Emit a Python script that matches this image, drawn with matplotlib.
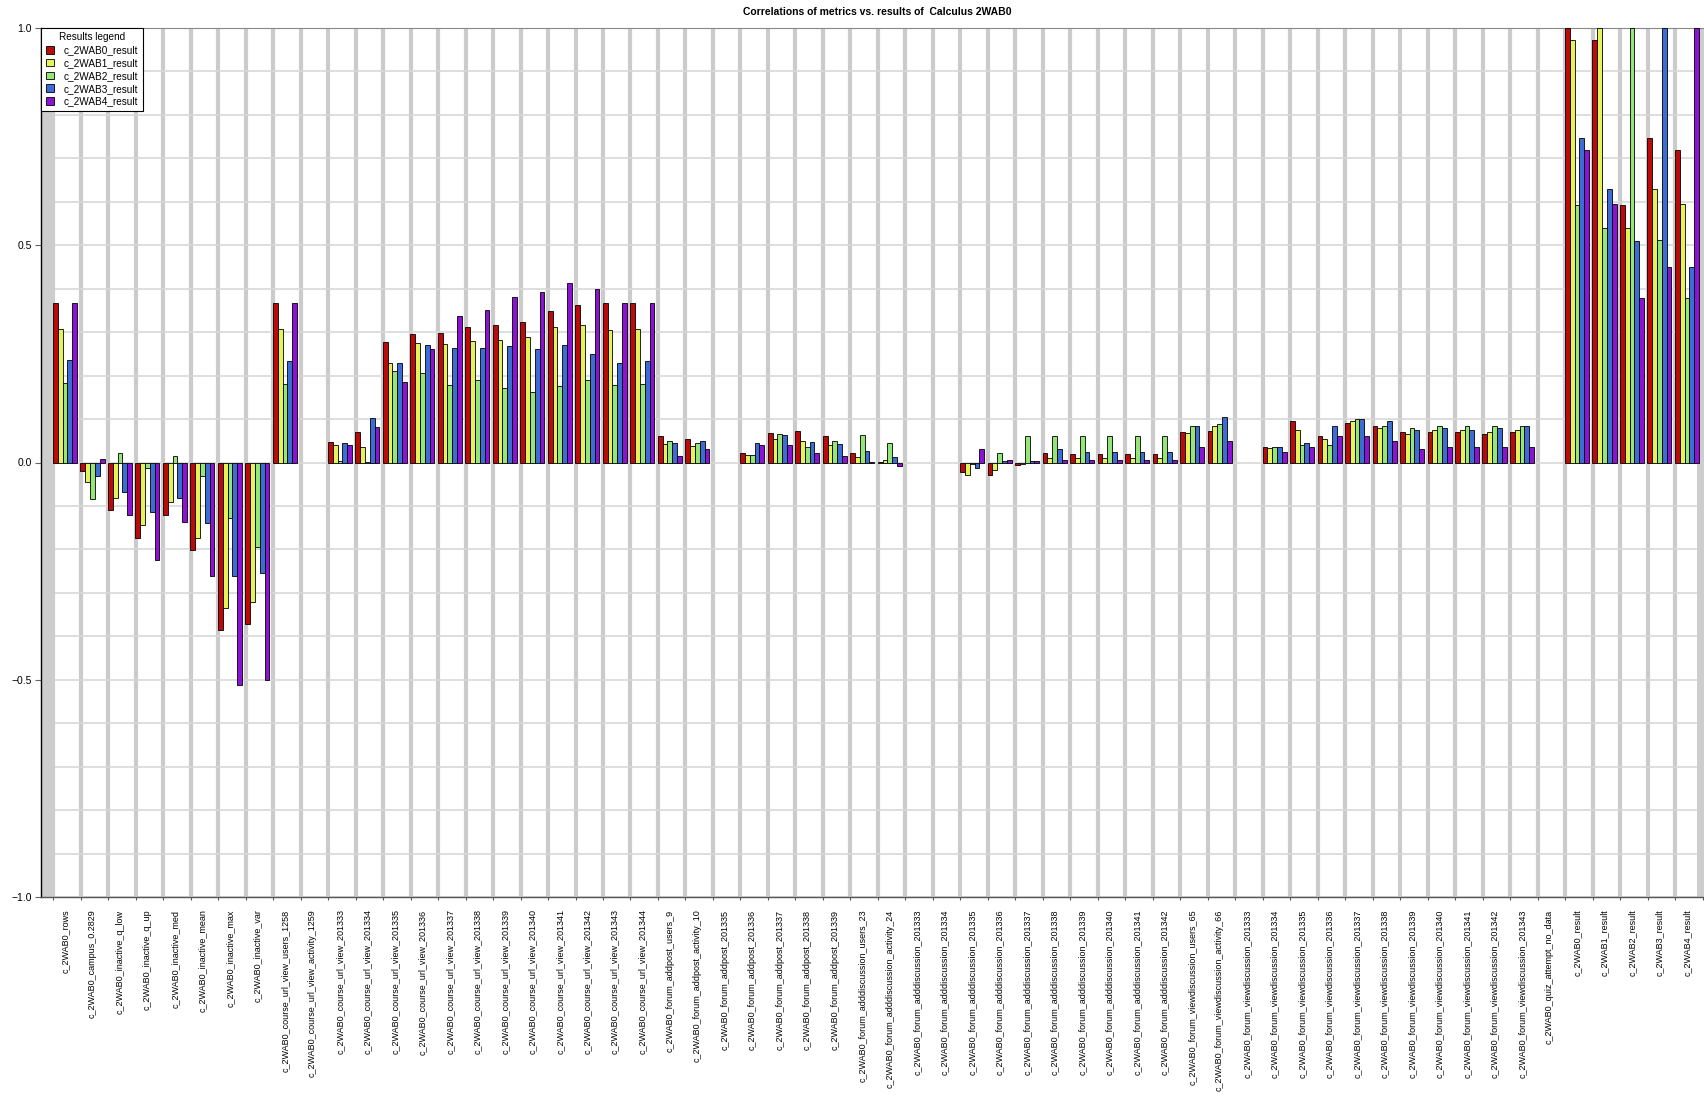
import matplotlib
matplotlib.use("Agg")
import matplotlib.pyplot as plt
from matplotlib.ticker import MultipleLocator, FixedLocator
import numpy as np

nan = np.nan

categories = [
    "c_2WAB0_rows", "c_2WAB0_campus_0.2829", "c_2WAB0_inactive_q_low", "c_2WAB0_inactive_q_up",
    "c_2WAB0_inactive_med", "c_2WAB0_inactive_mean", "c_2WAB0_inactive_max", "c_2WAB0_inactive_var",
    "c_2WAB0_course_url_view_users_1258", "c_2WAB0_course_url_view_activity_1259",
    "c_2WAB0_course_url_view_201333", "c_2WAB0_course_url_view_201334", "c_2WAB0_course_url_view_201335",
    "c_2WAB0_course_url_view_201336", "c_2WAB0_course_url_view_201337", "c_2WAB0_course_url_view_201338",
    "c_2WAB0_course_url_view_201339", "c_2WAB0_course_url_view_201340", "c_2WAB0_course_url_view_201341",
    "c_2WAB0_course_url_view_201342", "c_2WAB0_course_url_view_201343", "c_2WAB0_course_url_view_201344",
    "c_2WAB0_forum_addpost_users_9", "c_2WAB0_forum_addpost_activity_10",
    "c_2WAB0_forum_addpost_201335", "c_2WAB0_forum_addpost_201336", "c_2WAB0_forum_addpost_201337",
    "c_2WAB0_forum_addpost_201338", "c_2WAB0_forum_addpost_201339",
    "c_2WAB0_forum_adddiscussion_users_23", "c_2WAB0_forum_adddiscussion_activity_24",
    "c_2WAB0_forum_adddiscussion_201333", "c_2WAB0_forum_adddiscussion_201334",
    "c_2WAB0_forum_adddiscussion_201335", "c_2WAB0_forum_adddiscussion_201336",
    "c_2WAB0_forum_adddiscussion_201337", "c_2WAB0_forum_adddiscussion_201338",
    "c_2WAB0_forum_adddiscussion_201339", "c_2WAB0_forum_adddiscussion_201340",
    "c_2WAB0_forum_adddiscussion_201341", "c_2WAB0_forum_adddiscussion_201342",
    "c_2WAB0_forum_viewdiscussion_users_65", "c_2WAB0_forum_viewdiscussion_activity_66",
    "c_2WAB0_forum_viewdiscussion_201333", "c_2WAB0_forum_viewdiscussion_201334",
    "c_2WAB0_forum_viewdiscussion_201335", "c_2WAB0_forum_viewdiscussion_201336",
    "c_2WAB0_forum_viewdiscussion_201337", "c_2WAB0_forum_viewdiscussion_201338",
    "c_2WAB0_forum_viewdiscussion_201339", "c_2WAB0_forum_viewdiscussion_201340",
    "c_2WAB0_forum_viewdiscussion_201341", "c_2WAB0_forum_viewdiscussion_201342",
    "c_2WAB0_forum_viewdiscussion_201343", "c_2WAB0_quiz_attempt_no_data",
    "c_2WAB0_result", "c_2WAB1_result", "c_2WAB2_result", "c_2WAB3_result", "c_2WAB4_result",
]

series_names = ["c_2WAB0_result", "c_2WAB1_result", "c_2WAB2_result", "c_2WAB3_result", "c_2WAB4_result"]

wab0 = [0.367, -0.019, -0.109, -0.173, -0.120, -0.201, -0.385, -0.371, 0.367, nan,
        0.048, 0.071, 0.278, 0.295, 0.297, 0.311, 0.317, 0.324, 0.348, 0.363,
        0.366, 0.366, 0.061, 0.053, nan, 0.022, 0.067, 0.073, 0.061, 0.022,
        0.002, nan, nan, -0.022, -0.028, -0.005, 0.022, 0.020, 0.020, 0.020,
        0.020, 0.070, 0.072, nan, 0.035, 0.095, 0.060, 0.090, 0.085, 0.070,
        0.070, 0.070, 0.065, 0.070, nan, 1.0, 0.973, 0.593, 0.746, 0.720]
wab1 = [0.307, -0.045, -0.081, -0.144, -0.092, -0.174, -0.336, -0.322, 0.307, nan,
        0.041, 0.036, 0.230, 0.275, 0.272, 0.280, 0.283, 0.288, 0.311, 0.317,
        0.305, 0.307, 0.042, 0.038, nan, 0.017, 0.054, 0.050, 0.041, 0.012,
        0.005, nan, nan, -0.028, -0.018, -0.004, 0.010, 0.010, 0.010, 0.010,
        0.010, 0.068, 0.085, nan, 0.033, 0.075, 0.055, 0.095, 0.080, 0.065,
        0.075, 0.075, 0.070, 0.075, nan, 0.973, 1.0, 0.540, 0.630, 0.594]
wab2 = [0.182, -0.083, 0.023, -0.012, 0.016, -0.032, -0.127, -0.194, 0.180, nan,
        0.003, 0.001, 0.211, 0.206, 0.179, 0.189, 0.171, 0.163, 0.176, 0.190,
        0.179, 0.180, 0.050, 0.046, nan, 0.018, 0.065, 0.036, 0.050, 0.064,
        0.044, nan, nan, -0.004, 0.022, 0.062, 0.062, 0.062, 0.062, 0.062,
        0.062, 0.085, 0.088, nan, 0.035, 0.040, 0.040, 0.100, 0.085, 0.080,
        0.085, 0.085, 0.085, 0.085, nan, 0.593, 0.540, 1.0, 0.511, 0.378]
wab3 = [0.236, -0.032, -0.069, -0.115, -0.081, -0.140, -0.261, -0.255, 0.234, nan,
        0.046, 0.103, 0.228, 0.270, 0.264, 0.263, 0.267, 0.262, 0.270, 0.249,
        0.230, 0.234, 0.044, 0.050, nan, 0.045, 0.063, 0.048, 0.042, 0.027,
        0.013, nan, nan, -0.012, 0.004, 0.004, 0.030, 0.025, 0.025, 0.025,
        0.025, 0.083, 0.105, nan, 0.035, 0.045, 0.085, 0.100, 0.095, 0.075,
        0.080, 0.075, 0.080, 0.083, nan, 0.746, 0.630, 0.509, 1.0, 0.450]
wab4 = [0.367, 0.008, -0.121, -0.224, -0.138, -0.261, -0.512, -0.501, 0.367, nan,
        0.041, 0.081, 0.185, 0.262, 0.338, 0.351, 0.380, 0.392, 0.413, 0.400,
        0.366, 0.367, 0.015, 0.030, nan, 0.041, 0.040, 0.022, 0.015, 0.002,
        -0.008, nan, nan, 0.030, 0.005, 0.003, 0.005, 0.005, 0.005, 0.005,
        0.005, 0.035, 0.050, nan, 0.025, 0.035, 0.060, 0.060, 0.050, 0.030,
        0.035, 0.035, 0.035, 0.035, nan, 0.720, 0.594, 0.378, 0.450, 1.0]

colors = ["#bb0a0a", "#e6f25a", "#94e676", "#3c6cd6", "#8c12d4"]

plt.rcParams['font.family'] = ['Liberation Sans', 'DejaVu Sans']

W, H = 1704, 1098
fig = plt.figure(figsize=(W / 100, H / 100), dpi=100)
ax = fig.add_axes([41 / W, 1 - 897 / H, (W - 41) / W, (897 - 28) / H])

x = np.arange(len(categories))
bw = 0.175
for j, (vals, col, name) in enumerate(zip([wab0, wab1, wab2, wab3, wab4], colors, series_names)):
    vals = np.array(vals, dtype=float)
    ok = ~np.isnan(vals)
    ax.bar(x[ok] + (j - 2) * bw, vals[ok], bw, color=col, edgecolor='black',
           linewidth=0.6, zorder=3, label=name)

x_lo, x_hi = -0.873, 59.62
ax.set_xlim(x_lo, x_hi)
ax.set_ylim(-1.0, 1.0)

# gray edge bands at both ends of the category axis
ax.axvspan(x_lo, -0.36, color='#cdcdcd', lw=0, zorder=1)
ax.axvspan(59.38, x_hi, color='#cdcdcd', lw=0, zorder=1)

# category separators
sep = np.arange(-1, len(categories)) + 0.57
ax.xaxis.set_minor_locator(FixedLocator(sep))
ax.grid(which='minor', axis='x', color='#cbcbcb', linewidth=3.0, zorder=0)

ax.set_yticks([-1.0, -0.5, 0.0, 0.5, 1.0])
ax.set_yticklabels(["\u22121.0", "\u22120.5", "0.0", "0.5", "1.0"])
ax.yaxis.set_minor_locator(MultipleLocator(0.1))
ax.grid(which='both', axis='y', color='#d8d8d8', linewidth=1.2, zorder=0)
ax.set_axisbelow(True)

ax.set_xticks(x)
ax.set_xticklabels(categories, rotation=90, fontsize=6.5, va='top', ha='center')
ax.tick_params(axis='x', which='major', length=0, pad=9)
ax.tick_params(axis='x', which='minor', length=2.5, width=0.8, color='#555555', direction='out')
ax.tick_params(axis='y', which='major', labelsize=7.5, length=4.5, width=0.8, color='#666666', pad=2)
ax.tick_params(axis='y', which='minor', length=0)

ax.spines['left'].set_color('black')
ax.spines['left'].set_linewidth(1.0)
ax.spines['bottom'].set_color('#555555')
ax.spines['bottom'].set_linewidth(1.0)
ax.spines['top'].set_color('#888888')
ax.spines['top'].set_linewidth(0.8)
ax.spines['right'].set_visible(False)

leg = ax.legend(title='Results legend', loc='upper left', bbox_to_anchor=(0, 1), borderaxespad=0,
                fancybox=False, edgecolor='black', framealpha=1, fontsize=7.2, title_fontsize=7.2,
                handlelength=0.8, handleheight=0.8, labelspacing=0.28, borderpad=0.45,
                handletextpad=1.0)
leg.get_frame().set_linewidth(0.8)
leg.set_zorder(5)

fig.text(877 / W, 1 - 12 / H, "Correlations of metrics vs. results of  Calculus 2WAB0",
         ha='center', va='center', fontsize=7.5, fontweight='bold')

fig.savefig("out.png", dpi=100)
